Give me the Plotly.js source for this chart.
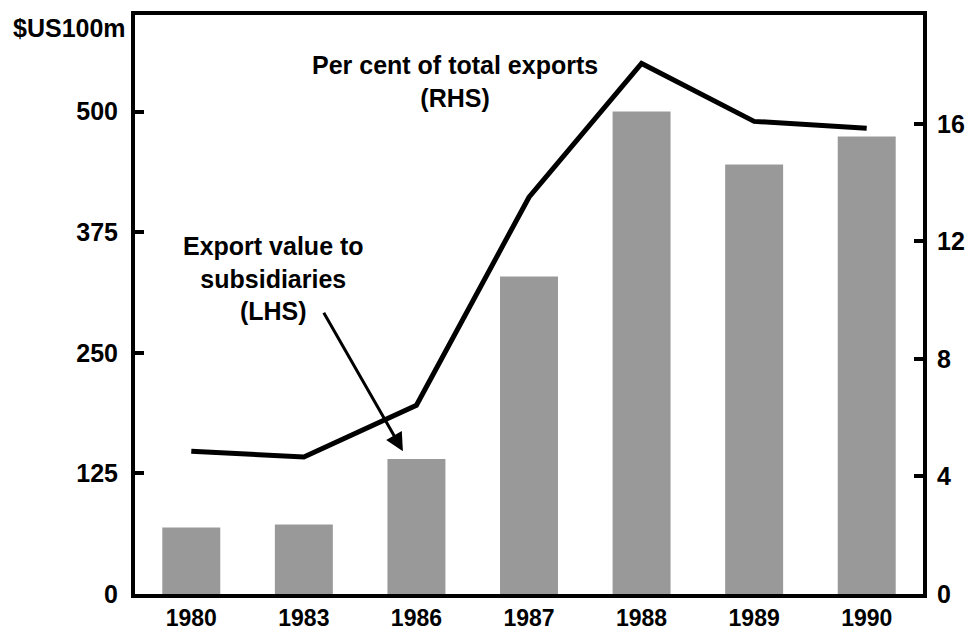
<!DOCTYPE html>
<html>
<head>
<meta charset="utf-8">
<script src="https://cdn.plot.ly/plotly-3.0.1.min.js"></script>
<style>
  html, body { margin: 0; padding: 0; background: #fff; }
  #chart { width: 967px; height: 632px; }
</style>
</head>
<body>
<div id="chart"></div>
<script>
const years = ['1980', '1983', '1986', '1987', '1988', '1989', '1990'];
const exportValue = [69, 72, 140, 329, 500, 445, 474];      // $US100m, LHS
const pctOfExports = [4.86, 4.66, 6.42, 13.5, 18.05, 16.08, 15.85]; // per cent, RHS

const leftTicks = [0, 125, 250, 375, 500];
const rightTicks = [0, 4, 8, 12, 16];

const FONT = { family: '"Liberation Sans", Arial, sans-serif', size: 25, color: '#000', weight: 'bold' };
const XFONT = Object.assign({}, FONT, { size: 23 });

const traces = [
    {
        type: 'bar',
        x: years,
        y: exportValue,
        marker: { color: '#999999' },
        hoverinfo: 'skip'
    },
    {
        type: 'scatter',
        mode: 'lines',
        x: years,
        y: pctOfExports,
        yaxis: 'y2',
        line: { color: '#000', width: 5 },
        hoverinfo: 'skip'
    }
];

const layout = {
    width: 967,
    height: 632,
    margin: { l: 135, r: 44, t: 15, b: 38 },
    paper_bgcolor: '#fff',
    plot_bgcolor: '#fff',
    showlegend: false,
    bargap: 0.485,
    font: FONT,
    xaxis: {
        type: 'category',
        showline: true,
        mirror: true,
        linecolor: '#000',
        linewidth: 4,
        ticks: '',
        showgrid: false,
        zeroline: false,
        tickfont: XFONT,
        ticklabelstandoff: 0
    },
    yaxis: {
        range: [0, 600],
        tickvals: leftTicks,
        ticktext: leftTicks.map(String),
        ticks: 'inside',
        ticklen: 9,
        tickwidth: 4,
        tickcolor: '#000',
        showline: true,
        linecolor: '#000',
        linewidth: 4,
        showgrid: false,
        zeroline: false,
        tickfont: FONT,
        ticklabelstandoff: 8
    },
    yaxis2: {
        overlaying: 'y',
        side: 'right',
        range: [0, 19.7],
        tickvals: rightTicks,
        ticktext: rightTicks.map(String),
        ticks: 'inside',
        ticklen: 9,
        tickwidth: 4,
        tickcolor: '#000',
        showline: true,
        linecolor: '#000',
        linewidth: 4,
        showgrid: false,
        zeroline: false,
        tickfont: FONT,
        ticklabelstandoff: 5
    },
    annotations: [
        {
            xref: 'paper', yref: 'paper', x: 0, y: 1,
            xanchor: 'right', yanchor: 'middle', xshift: -7, yshift: -13,
            text: '$US100m', showarrow: false, font: FONT
        },
        {
            xref: 'x', yref: 'y', x: 2.34, y: 531,
            xanchor: 'center', yanchor: 'middle',
            text: 'Per cent of total exports<br>(RHS)', showarrow: false, font: FONT
        },
        {
            xref: 'x', yref: 'y', x: 0.73, y: 327,
            xanchor: 'center', yanchor: 'middle',
            text: 'Export value to<br>subsidiaries<br>(LHS)', showarrow: false, font: FONT
        },
        {
            xref: 'x', yref: 'y', x: 1.88, y: 148,
            text: '', showarrow: true,
            arrowhead: 2, arrowsize: 1.2, arrowwidth: 3, arrowcolor: '#000',
            ax: -80, ay: -140, standoff: 0
        }
    ]
};

Plotly.newPlot('chart', traces, layout, { staticPlot: true });
</script>
</body>
</html>
